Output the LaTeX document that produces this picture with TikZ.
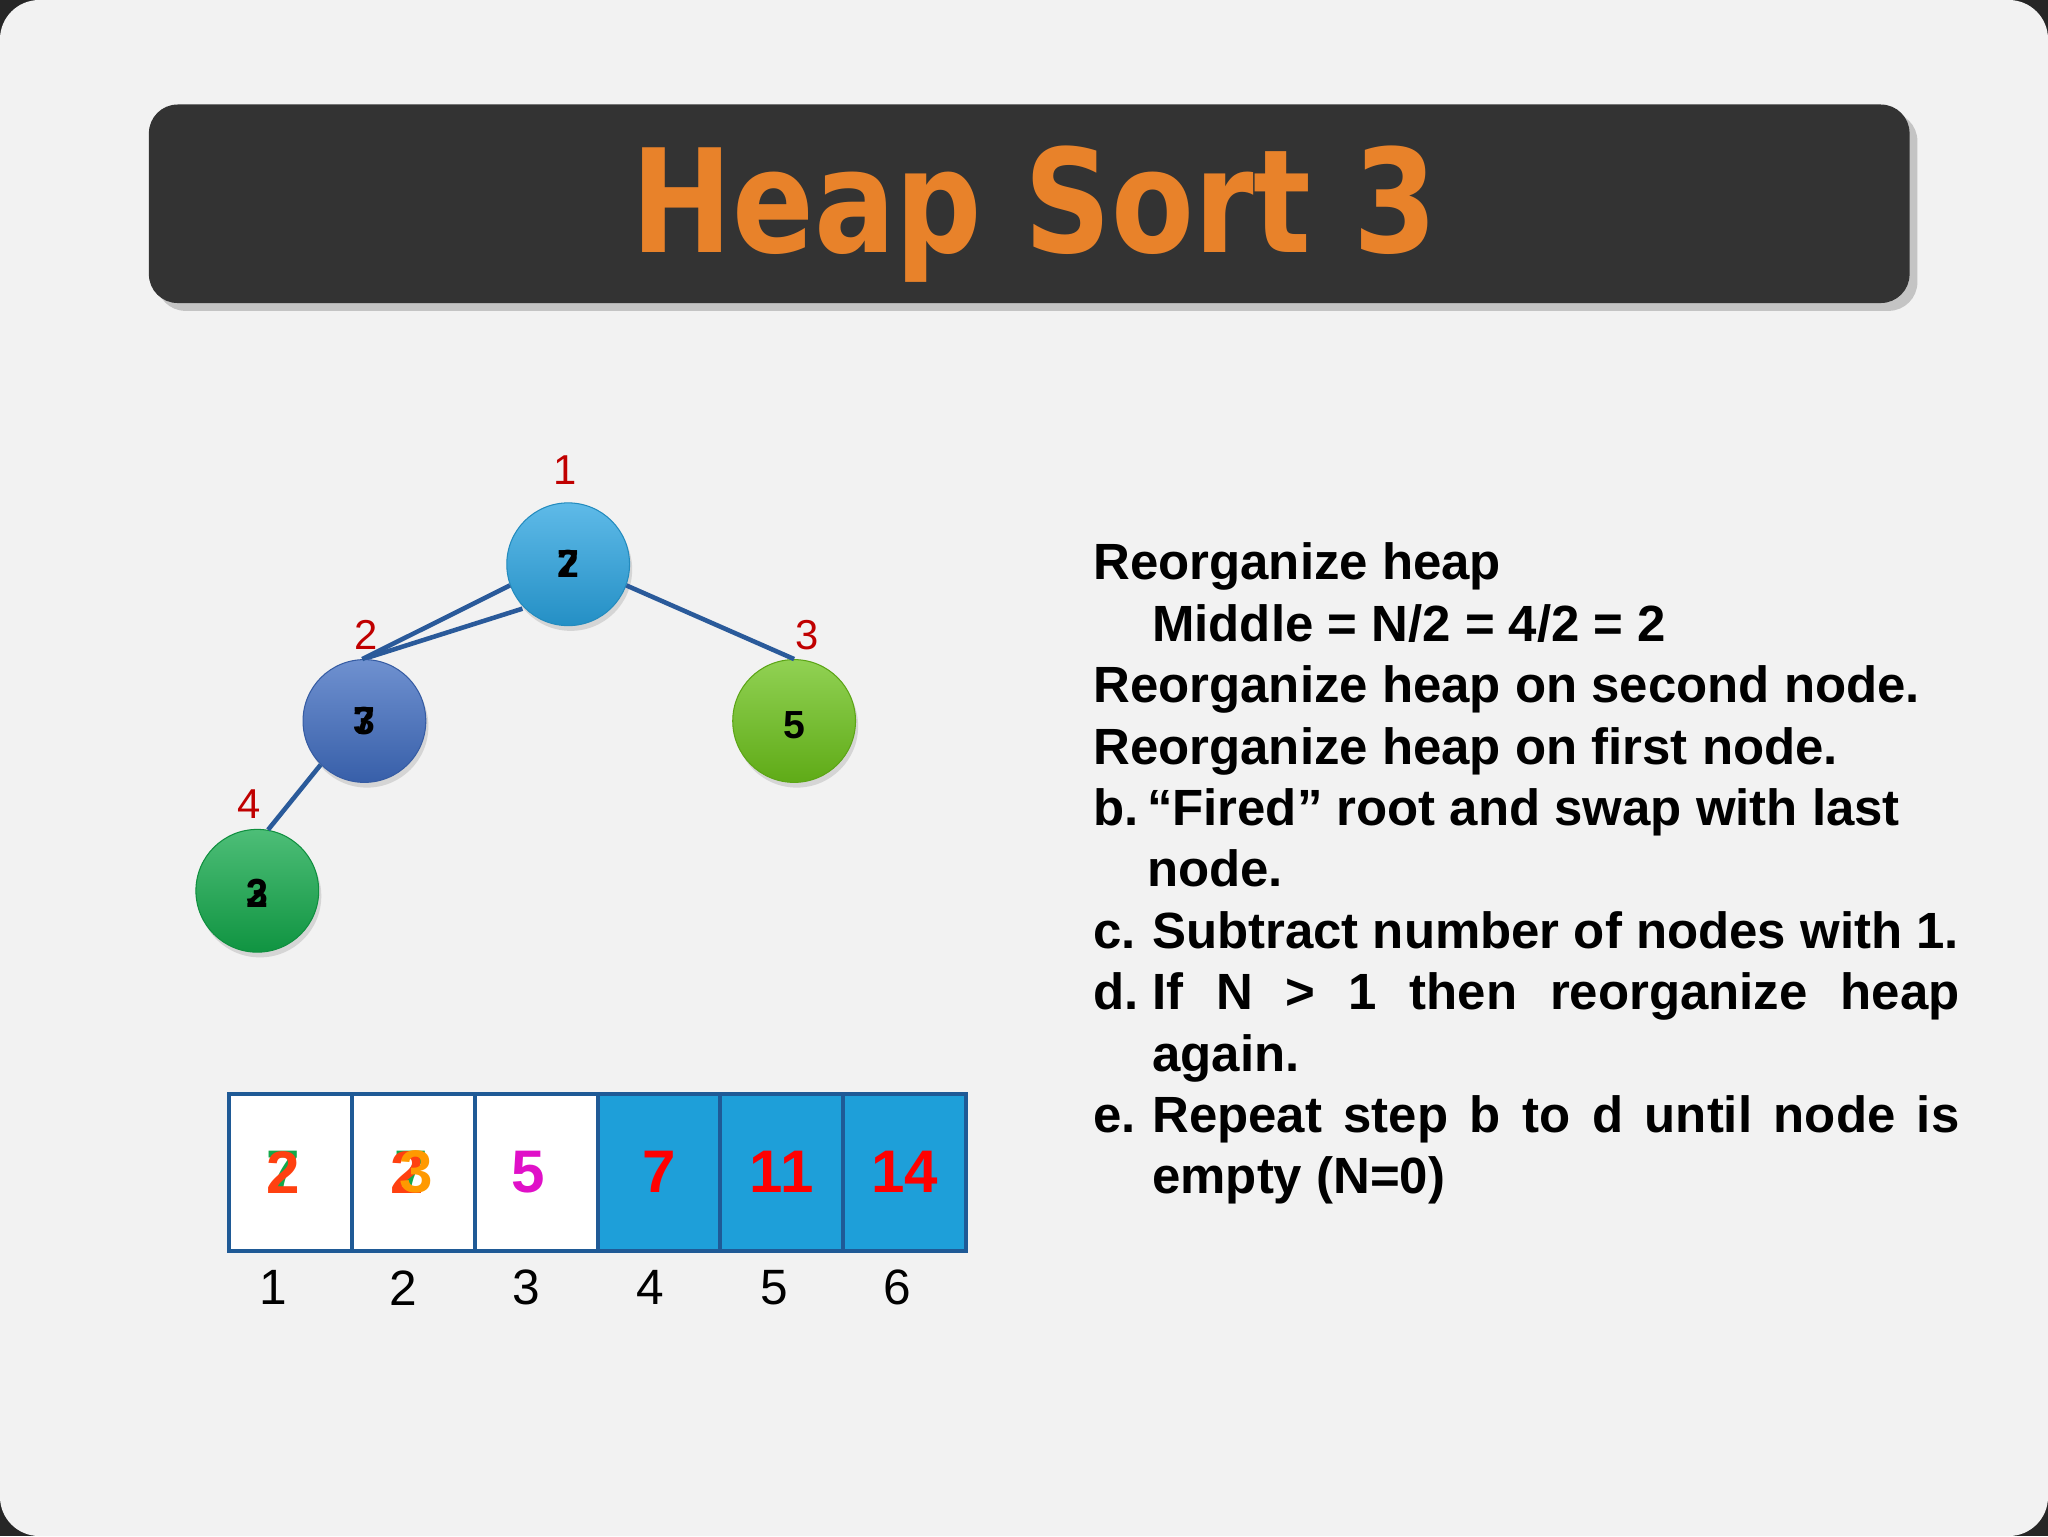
\documentclass[tikz,border=0pt]{standalone}
\usepackage{fontspec}
\setmainfont{Liberation Sans}
\newfontfamily\titlefont{DejaVu Sans}
\usetikzlibrary{shadows}
\definecolor{bg}{HTML}{F2F2F2}
\definecolor{bar}{HTML}{333333}
\definecolor{ttl}{HTML}{E8822A}
\definecolor{lbl}{HTML}{C00000}
\definecolor{edge}{HTML}{2A5A9A}
\definecolor{cellb}{HTML}{1F5A96}
\definecolor{cellf}{HTML}{1E9FD9}
\definecolor{ca}{HTML}{29A3E0}
\definecolor{cb}{HTML}{3F6CC0}
\definecolor{cc}{HTML}{6CC21A}
\definecolor{cd}{HTML}{12A84A}
\definecolor{ored}{HTML}{FF4010}
\definecolor{oor}{HTML}{FF9900}
\definecolor{mag}{HTML}{E010C8}
\begin{document}
\begin{tikzpicture}[x=1pt,y=-1pt,
  hnode/.style={circle,minimum size=94pt,inner sep=0pt,draw=#1!85!black,line width=0.8pt,
     top color=#1!75!white,bottom color=#1!88!black,
     drop shadow={shadow xshift=2pt,shadow yshift=-4pt,opacity=0.25},
     font=\bfseries\fontsize{30}{30}\selectfont},
  idx/.style={text=lbl,font=\fontsize{32}{32}\selectfont},
  cell/.style={draw=cellb,line width=3pt,minimum width=94pt,minimum height=120pt,inner sep=0pt,anchor=north west},
  num/.style={font=\bfseries\fontsize{46}{46}\selectfont},
  aidx/.style={font=\fontsize{38}{38}\selectfont},
  body/.style={font=\bfseries\fontsize{39}{47}\selectfont,anchor=base west,inner sep=0pt}]
\fill[black!85] (0,0) rectangle (1568,1176);
\fill[bg,rounded corners=30pt] (0,0) rectangle (1568,1176);
\useasboundingbox (0,0) rectangle (1568,1176);
% title
\node[fill=bar,rounded corners=22pt,minimum width=1348pt,minimum height=152pt,drop shadow={shadow xshift=6pt,shadow yshift=-6pt,opacity=0.4}] (bar) at (788,156) {};
\node[text=ttl,font=\titlefont\bfseries\fontsize{110}{110}\selectfont,xscale=0.84,transform shape] (title) at (792,164) {Heap Sort 3};
% tree
\draw[edge,line width=3.5pt] (400,466) -- (280,504);
\node[hnode=ca] (r) at (435,432) {};
\node[hnode=cb] (a) at (279,552) {};
\node[hnode=cc] (b) at (608,552) {};
\node[hnode=cd] (c) at (197,682) {};
\draw[edge,line width=3.5pt] (r.-20) -- (b.90);
\draw[edge,line width=3.5pt] (a.225) -- (c.80);
\draw[edge,line width=3.5pt] (r.200) -- (a.92);
\node[font=\bfseries\fontsize{30}{30}\selectfont] (r1) at (r) {2};
\node[font=\bfseries\fontsize{30}{30}\selectfont] (r2) at (r) {7};
\node[font=\bfseries\fontsize{30}{30}\selectfont] (a1) at (a) {3};
\node[font=\bfseries\fontsize{30}{30}\selectfont] (a2) at (a) {7};
\node[font=\bfseries\fontsize{30}{30}\selectfont] (b1) at ([yshift=-3pt]b.center) {5};
\node[font=\bfseries\fontsize{30}{30}\selectfont] (c1) at ([yshift=-2pt]c.center) {2};
\node[font=\bfseries\fontsize{30}{30}\selectfont] (c2) at ([yshift=-2pt]c.center) {3};
\node[idx] (l1) at (433,360) {1};
\node[idx] (l2) at (280,486) {2};
\node[idx] (l3) at (618,486) {3};
\node[idx] (l4) at (191,616) {4};
% array
\node[cell,fill=white] (k1) at (174,836) {};
\node[cell,fill=white] (k2) at (268,836) {};
\node[cell,fill=white] (k3) at (362,836) {};
\node[cell,fill=cellf] (k4) at (456,836) {};
\node[cell,fill=cellf] (k5) at (550,836) {};
\node[cell,fill=cellf] (k6) at (644,836) {};
\node[num,text=cd] (n1a) at ([xshift=-6pt]k1.center) {7};
\node[num,text=ored] (n1b) at ([xshift=-6pt]k1.center) {2};
\node[num,text=cd] (n2a) at ([xshift=-2pt]k2.center) {7};
\node[num,text=ored] (n2b) at ([xshift=-5pt]k2.center) {2};
\node[num,text=oor] (n2c) at ([xshift=2pt]k2.center) {3};
\node[num,text=mag] (n3) at ([xshift=-6pt]k3.center) {5};
\node[num,text=red] (n4) at (k4.center) {7};
\node[num,text=red] (n5) at (k5.center) {11};
\node[num,text=red] (n6) at (k6.center) {14};
\node[aidx] (i1) at (209,986) {1};
\node[aidx] (i2) at (309,986) {2};
\node[aidx] (i3) at (403,986) {3};
\node[aidx] (i4) at (498,986) {4};
\node[aidx] (i5) at (593,986) {5};
\node[aidx] (i6) at (687,986) {6};
% text
\node[body] (t1) at (837,444) {Reorganize heap};
\node[body] (t2) at (882,491) {Middle = N/2 = 4/2 = 2};
\node[body] (t3) at (837,538) {Reorganize heap on second node.};
\node[body] (t4) at (837,585) {Reorganize heap on first node.};
\node[body] (t5) at (837,632) {b.};
\node[body] (t5b) at (878,632) {“Fired” root and swap with last};
\node[body] (t5c) at (878,679) {node.};
\node[body] (t6) at (837,726) {c.};
\node[body] (t6b) at (882,726) {Subtract number of nodes with 1.};
\node[body] (t7) at (837,773) {d.};
\node[body] (t7b) at (882,773) {\makebox[618pt][s]{If N > 1 then reorganize heap}};
\node[body] (t7c) at (882,820) {again.};
\node[body] (t8) at (837,867) {e.};
\node[body] (t8b) at (882,867) {\makebox[618pt][s]{Repeat step b to d until node is}};
\node[body] (t8c) at (882,914) {empty (N=0)};
\end{tikzpicture}
\end{document}
